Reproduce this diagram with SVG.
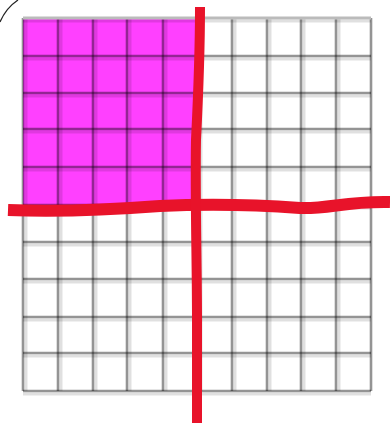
<svg xmlns="http://www.w3.org/2000/svg" width="390" height="423" viewBox="0 0 390 423">
<style>
.fill{fill:#ff40ff}
.g{stroke:#000;stroke-opacity:0.42;stroke-width:2.6;fill:none}
.gs{stroke:#000;stroke-opacity:0.12;stroke-width:3;fill:none}
.red{stroke:#e8132a;fill:none;stroke-linecap:butt;stroke-linejoin:round}
</style>
<rect width="390" height="423" fill="#fff"/>
<path d="M0,22 Q6,8 18,0" stroke="#222" stroke-width="1.2" fill="none"/>
<g id="shaded">
<rect class="fill" x="23" y="18" width="176" height="188"/>
</g>
<g id="grid">
<path class="gs" d="M26,18V391 M61,18V391 M96,18V391 M130,18V391 M166,18V391 M201,18V391 M235,18V391 M270,18V391 M304,18V391 M339,18V391"/>
<path class="gs" d="M23,21H371 M23,59H371 M23,96H371 M23,132H371 M23,170H371 M23,208H371 M23,245H371 M23,282H371 M23,320H371 M23,356H371 M23,394H371"/>
<path class="g" d="M23,18V391 M58,18V391 M93,18V391 M127,18V391 M163,18V391 M198,18V391 M232,18V391 M267,18V391 M301,18V391 M336,18V391 M371,18V391"/>
<path class="g" d="M23,56H371 M23,93H371 M23,129H371 M23,167H371 M23,205H371 M23,242H371 M23,279H371 M23,317H371 M23,353H371 M23,391H371"/>
<path d="M23,18H371" stroke="#bbb" stroke-width="3" fill="none"/>
</g>
<g id="red-lines">
<path class="red" stroke-width="12" d="M8,210 C60,212 120,209 160,206 C220,203 260,205 300,208 C330,209 345,201 390,202"/>
<path class="red" stroke-width="10" d="M200,7 C200,60 198,100 196,140 C195,200 197,260 197,320 C197,380 197,400 197,423"/>
</g>
</svg>
